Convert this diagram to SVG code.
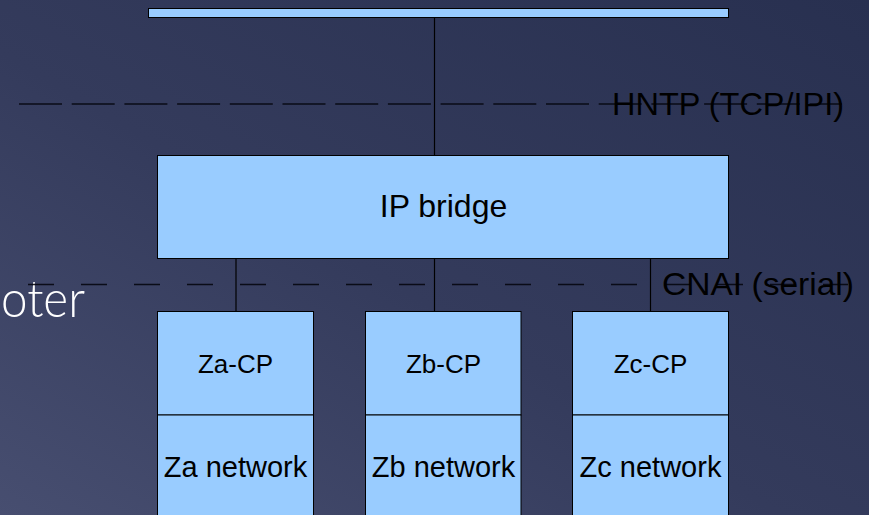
<svg xmlns="http://www.w3.org/2000/svg" width="869" height="515" viewBox="0 0 869 515">
  <defs>
    <linearGradient id="bg" x1="1" y1="0" x2="0" y2="1">
      <stop offset="0" stop-color="#283050"/>
      <stop offset="0.55" stop-color="#343b5c"/>
      <stop offset="1" stop-color="#474e70"/>
    </linearGradient>
    <style>
      .box { fill: #99ccff; stroke: #000; stroke-width: 1; }
      .wire { stroke: #000; stroke-width: 1.2; fill: none; }
      .dash { stroke: #05070f; stroke-width: 1.4; fill: none; opacity: 0.9; }
      .lbl { font-family: "Liberation Sans", Arial, sans-serif; fill: #000; text-anchor: middle; }
      .side { font-family: "Liberation Sans", Arial, sans-serif; fill: #000; }
    </style>
  </defs>

  <!-- slide background -->
  <rect x="0" y="0" width="869" height="515" fill="url(#bg)"/>
  <text x="1" y="317" font-family="Lato, 'Open Sans', sans-serif" font-weight="300" font-size="52" fill="#ffffff" textLength="84" lengthAdjust="spacingAndGlyphs">oter</text>

  <!-- layer boundaries -->
  <g id="layers">
    <line class="dash" x1="19" y1="104" x2="842" y2="104" stroke-dasharray="43 9.7"/>
    <text class="side" x="612" y="115" font-size="32" textLength="232" lengthAdjust="spacingAndGlyphs">HNTP (TCP/IPI)</text>
    <line class="dash" x1="28" y1="284.5" x2="848" y2="284.5" stroke-dasharray="26 27"/>
    <text class="side" x="662" y="295" font-size="32" textLength="192" lengthAdjust="spacingAndGlyphs">CNAI (serial)</text>
  </g>

  <!-- connectors -->
  <g id="connectors">
    <line class="wire" x1="434.5" y1="17.5" x2="434.5" y2="155.5"/>
    <line class="wire" x1="236" y1="258.5" x2="236" y2="311.5"/>
    <line class="wire" x1="434.5" y1="258.5" x2="434.5" y2="311.5"/>
    <line class="wire" x1="650.5" y1="258.5" x2="650.5" y2="311.5"/>
  </g>

  <!-- backbone bus -->
  <g id="bus">
    <rect class="box" x="148.5" y="8.5" width="580" height="9"/>
  </g>

  <g id="ip-bridge">
    <rect class="box" x="157.5" y="155.5" width="571" height="103"/>
    <text class="lbl" x="443.5" y="217" font-size="32">IP bridge</text>
  </g>

  <g id="za">
    <rect class="box" x="157.5" y="311.5" width="156" height="103.5"/>
    <text class="lbl" x="235.5" y="373" font-size="26">Za-CP</text>
    <rect class="box" x="157.5" y="415" width="156" height="110"/>
    <text class="lbl" x="235.5" y="477" font-size="29">Za network</text>
  </g>

  <g id="zb">
    <rect class="box" x="365.5" y="311.5" width="155.5" height="103.5"/>
    <text class="lbl" x="443.5" y="373" font-size="26">Zb-CP</text>
    <rect class="box" x="365.5" y="415" width="155.5" height="110"/>
    <text class="lbl" x="443.5" y="477" font-size="29">Zb network</text>
  </g>

  <g id="zc">
    <rect class="box" x="572.5" y="311.5" width="156" height="103.5"/>
    <text class="lbl" x="650.5" y="373" font-size="26">Zc-CP</text>
    <rect class="box" x="572.5" y="415" width="156" height="110"/>
    <text class="lbl" x="650.5" y="477" font-size="29">Zc network</text>
  </g>
</svg>
